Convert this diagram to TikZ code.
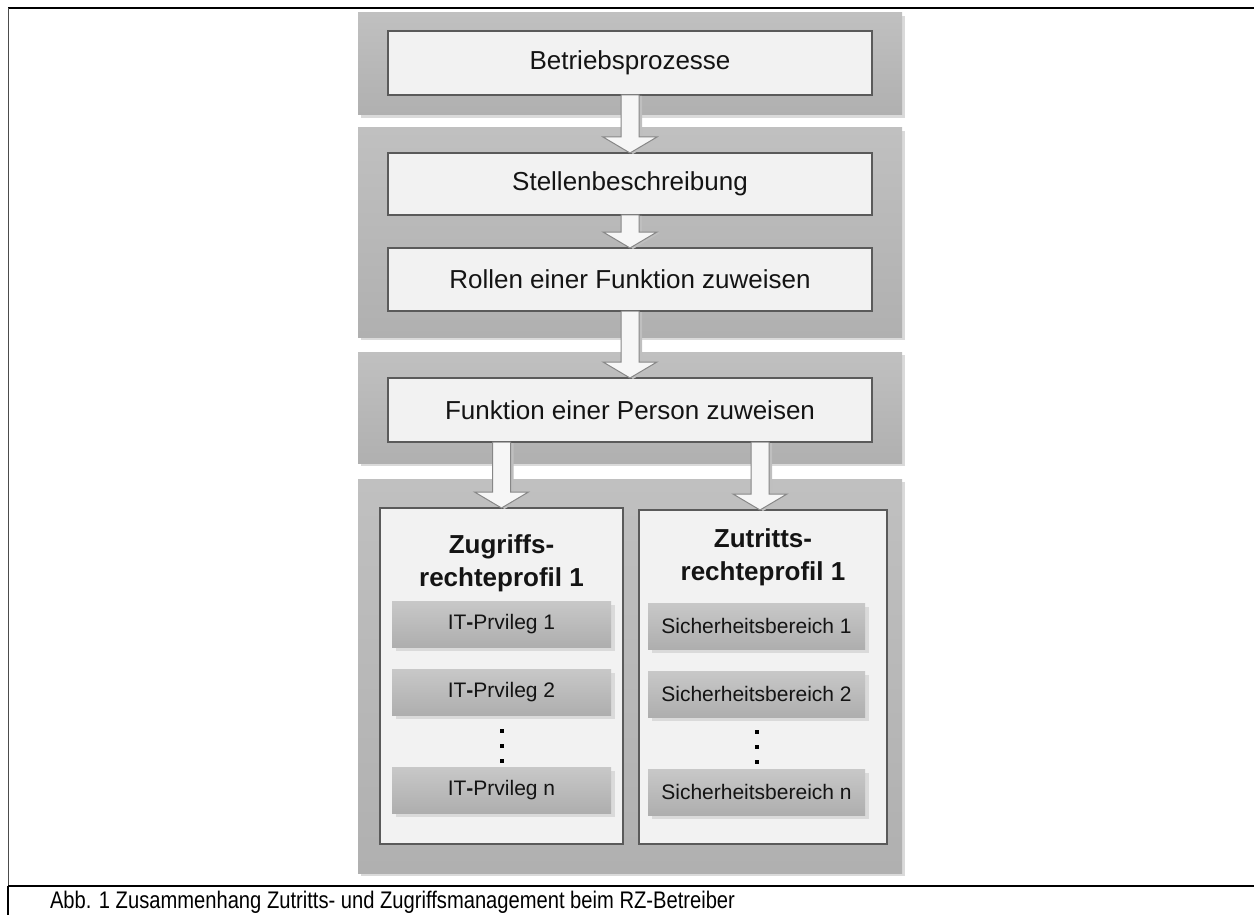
\documentclass[tikz,border=0pt]{standalone}
\usepackage{fontspec}
\setmainfont{Liberation Sans}
\usepackage{graphicx}
\usepackage{tikz}
\usetikzlibrary{calc,shadows}
\definecolor{panelhi}{RGB}{192,192,192}
\definecolor{panello}{RGB}{176,176,176}
\definecolor{shadowgray}{RGB}{218,218,218}
\definecolor{boxfill}{RGB}{242,242,242}
\definecolor{boxline}{RGB}{90,90,90}
\definecolor{itemhi}{RGB}{200,200,200}
\definecolor{itemlo}{RGB}{174,174,174}
\definecolor{arrowfill}{RGB}{246,246,246}
\definecolor{arrowline}{RGB}{135,135,135}
\definecolor{textblack}{RGB}{20,20,20}
\tikzstyle{every node}=[inner sep=0pt,outer sep=0pt,text=textblack]
\tikzstyle{panel}=[rectangle,top color=panelhi,bottom color=panello,
  drop shadow={shadow xshift=3pt,shadow yshift=-3pt,fill=shadowgray,opacity=1}]
\tikzstyle{stepbox}=[rectangle,fill=boxfill,draw=boxline,line width=1.2pt,
  minimum width=484pt,font=\fontsize{26}{31}\selectfont]
\tikzstyle{profil}=[rectangle,fill=boxfill,draw=boxline,line width=1.2pt]
\tikzstyle{profiltitle}=[align=center,font=\fontsize{26}{33}\selectfont\bfseries]
\tikzstyle{item}=[rectangle,top color=itemhi,bottom color=itemlo,minimum height=46pt,
  font=\fontsize{21}{25}\selectfont,
  drop shadow={shadow xshift=4pt,shadow yshift=-4pt,fill=shadowgray,opacity=1}]
\tikzstyle{blockarrow}=[fill=arrowfill,draw=arrowline,line width=1pt,
  drop shadow={shadow xshift=3pt,shadow yshift=-1pt,fill=black!25,opacity=1}]
\newcommand{\blockarrow}[2]{%
  \draw[blockarrow] ($(#1)+(-9,0)$) -- ($(#1)+(9,0)$) -- ($(#2)+(9,-16)$)
    -- ($(#2)+(27,-16)$) -- (#2) -- ($(#2)+(-27,-16)$) -- ($(#2)+(-9,-16)$) -- cycle;}

\begin{document}
\begin{tikzpicture}[x=1pt,y=-1pt]
  \useasboundingbox (0,0) rectangle (1254,915);
  % frame and caption
  \draw[line width=2pt] (8,8) -- (1254,8);
  \draw[line width=1pt,black!70] (8,8) -- (8,886);
  \draw[line width=2pt] (8,886) -- (1254,886) (8,886) -- (8,915);
  \node[anchor=base west,font=\fontsize{24}{28}\selectfont,text=black] (caption) at (50,908)
    {\scalebox{0.84}[1]{Abb. 1 Zusammenhang Zutritts- und Zugriffsmanagement beim RZ-Betreiber}};

  % gray levels
  \node[panel,minimum width=544pt,minimum height=102pt] (lvl1) at (630,64) {};
  \node[panel,minimum width=544pt,minimum height=209pt] (lvl2) at (630,232.5) {};
  \node[panel,minimum width=544pt,minimum height=111pt] (lvl3) at (630,407.5) {};
  \node[panel,minimum width=544pt,minimum height=394pt] (lvl4) at (630,676) {};

  \node[stepbox,minimum height=64pt] (prozesse) at (630,63) {Betriebsprozesse};
  \node[stepbox,minimum height=62pt] (stelle) at (630,184) {Stellenbeschreibung};
  \node[stepbox,minimum height=63pt] (rollen) at (630,279.5) {Rollen einer Funktion zuweisen};
  \node[stepbox,minimum height=64pt] (funktion) at (630,410) {Funktion einer Person zuweisen};

  \node[profil,minimum width=243pt,minimum height=336pt] (zugriff) at (501.5,676) {};
  \node[profil,minimum width=248pt,minimum height=334pt] (zutritt) at (763,677) {};
  \node[profiltitle] (zugriffT) at (501.5,563) {Zugriffs-\\rechteprofil 1};
  \node[profiltitle] (zutrittT) at (763,557) {Zutritts-\\rechteprofil 1};

  \node[item,minimum width=219pt] (priv1) at (501.5,624) {IT\textbf{-}Prvileg 1};
  \node[item,minimum width=219pt] (priv2) at (501.5,692) {IT\textbf{-}Prvileg 2};
  \node[item,minimum width=219pt] (privn) at (501.5,790) {IT\textbf{-}Prvileg n};
  \node[item,minimum width=217pt] (bereich1) at (756.5,626) {Sicherheitsbereich 1};
  \node[item,minimum width=217pt] (bereich2) at (756.5,694) {Sicherheitsbereich 2};
  \node[item,minimum width=217pt] (bereichn) at (756.5,792) {Sicherheitsbereich n};

  \foreach \y in {729,744,759} \fill (500,\y) rectangle ++(4,4);
  \foreach \y in {730,745,760} \fill (755,\y) rectangle ++(4,4);

  \blockarrow{prozesse.south}{stelle.north}
  \blockarrow{stelle.south}{rollen.north}
  \blockarrow{rollen.south}{funktion.north}
  \coordinate (fromL) at (funktion.south -| zugriff.north);
  \coordinate (toR) at ($(zutritt.north)+(-3,0)$);
  \coordinate (fromR) at (funktion.south -| toR);
  \blockarrow{fromL}{zugriff.north}
  \blockarrow{fromR}{toR}
\end{tikzpicture}
\end{document}
